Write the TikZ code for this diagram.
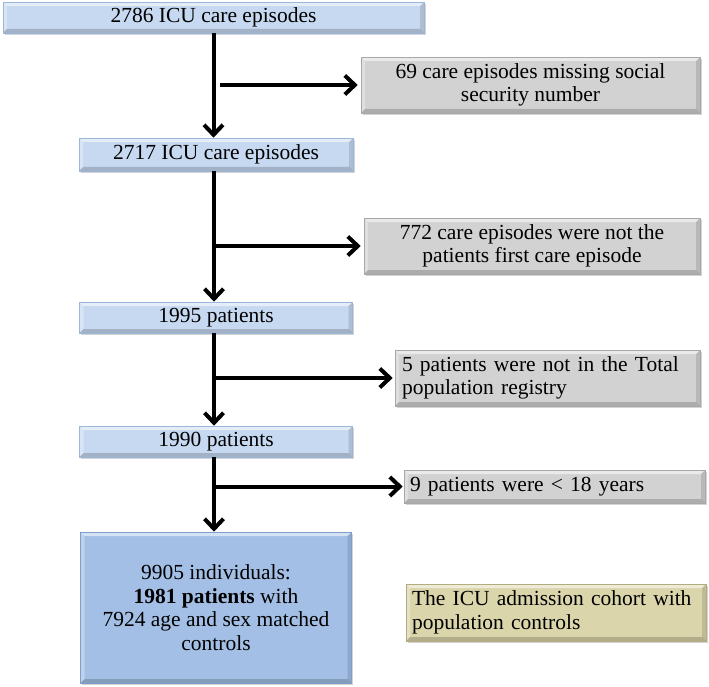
\documentclass[tikz,border=0pt]{standalone}
\usepackage{fontspec}
\setmainfont{Liberation Serif}
\usetikzlibrary{arrows.meta,shadows}
\definecolor{lblue}{HTML}{C6D9F1}
\definecolor{lblueB}{HTML}{9AB6DA}
\definecolor{gbox}{HTML}{D2D2D2}
\definecolor{gboxB}{HTML}{A8A8A8}
\definecolor{fblue}{HTML}{A3BFE5}
\definecolor{fblueB}{HTML}{7E9FCB}
\definecolor{ybox}{HTML}{DAD5AB}
\definecolor{yboxB}{HTML}{B3AC7C}
\tikzset{
  bevel/.style={path picture={
    \def\bb{path picture bounding box}
    \fill[white,opacity=.55] (\bb.north west) -- (\bb.north east) -- ([xshift=-4pt,yshift=-4pt]\bb.north east) -- ([xshift=4pt,yshift=-4pt]\bb.north west) -- cycle;
    \fill[white,opacity=.3] (\bb.north west) -- ([xshift=4pt,yshift=-4pt]\bb.north west) -- ([xshift=4pt,yshift=4pt]\bb.south west) -- (\bb.south west) -- cycle;
    \fill[black,opacity=.18] (\bb.south west) -- (\bb.south east) -- ([xshift=-4pt,yshift=4pt]\bb.south east) -- ([xshift=4pt,yshift=4pt]\bb.south west) -- cycle;
    \fill[black,opacity=.12] (\bb.north east) -- ([xshift=-4pt,yshift=-4pt]\bb.north east) -- ([xshift=-4pt,yshift=4pt]\bb.south east) -- (\bb.south east) -- cycle;
  }},
  box/.style={bevel, line width=0.6pt, inner sep=0pt, align=center,
    font=\fontsize{21.5}{23.5}\selectfont,
    drop shadow={shadow xshift=1.5pt, shadow yshift=-2pt, opacity=.35}},
  mainbox/.style={box, fill=lblue, draw=lblueB},
  exclbox/.style={box, fill=gbox, draw=gboxB},
  finalbox/.style={box, fill=fblue, draw=fblueB},
  notebox/.style={box, fill=ybox, draw=yboxB},
  flow/.style={line width=4pt, -{Straight Barb[length=10pt,width=19pt]}},
}
\begin{document}
\begin{tikzpicture}[x=1pt,y=-1pt]
\useasboundingbox (0,0) rectangle (709,687);
% main column
\node[mainbox, minimum width=421, minimum height=31] (b1) at (213.5,17.5) {2786 ICU care episodes};
\node[mainbox, minimum width=274, minimum height=33] (b2) at (216,154.5) {2717 ICU care episodes};
\node[mainbox, minimum width=273, minimum height=31] (b3) at (216,317.5) {1995 patients};
\node[mainbox, minimum width=273, minimum height=31] (b4) at (216,441.5) {1990 patients};
\node[finalbox, minimum width=271, minimum height=151] (b5) at (216,607.5) {9905 individuals:\\\textbf{1981 patients} with\\7924 age and sex matched\\controls};
% exclusions
\node[exclbox, minimum width=339, minimum height=56] (e1) at (530.5,85) {69 care episodes missing social\\security number};
\node[exclbox, minimum width=336, minimum height=56] (e2) at (532,246) {772 care episodes were not the\\patients first care episode};
\node[exclbox, minimum width=305, minimum height=56, text width=291, align=left] (e3) at (547.5,378) {5 patients were not in the Total\\population registry};
\node[exclbox, minimum width=301, minimum height=33, text width=289, align=left] (e4) at (554.5,486.5) {9 patients were < 18 years};
\node[notebox, minimum width=300, minimum height=57, text width=288, align=left] (n1) at (556,612.5) {The ICU admission cohort with\\population controls};
% trunk
\draw[flow] ([xshift=-2.5pt]b1.south -| b2.north) -- ([xshift=-2.5pt]b2.north);
\draw[flow] ([xshift=-2pt]b2.south) -- ([xshift=-2pt]b3.north);
\draw[flow] ([xshift=-2pt]b3.south) -- ([xshift=-2pt]b4.north);
\draw[flow] ([xshift=-2pt]b4.south) -- ([xshift=-2pt]b5.north);
% branches
\coordinate (j1) at (b2.north |- e1.west);
\coordinate (j2) at (b2.south |- e2.west);
\coordinate (j3) at (b3.south |- e3.west);
\coordinate (j4) at (b4.south |- e4.west);
\draw[flow] ([xshift=4pt]j1) -- ([xshift=-3pt]e1.west);
\draw[flow] ([xshift=-2pt]j2) -- ([xshift=-3pt]e2.west);
\draw[flow] ([xshift=-2pt]j3) -- ([xshift=-2pt]e3.west);
\draw[flow] ([xshift=-2pt]j4) -- ([xshift=-1pt]e4.west);
\end{tikzpicture}
\end{document}
